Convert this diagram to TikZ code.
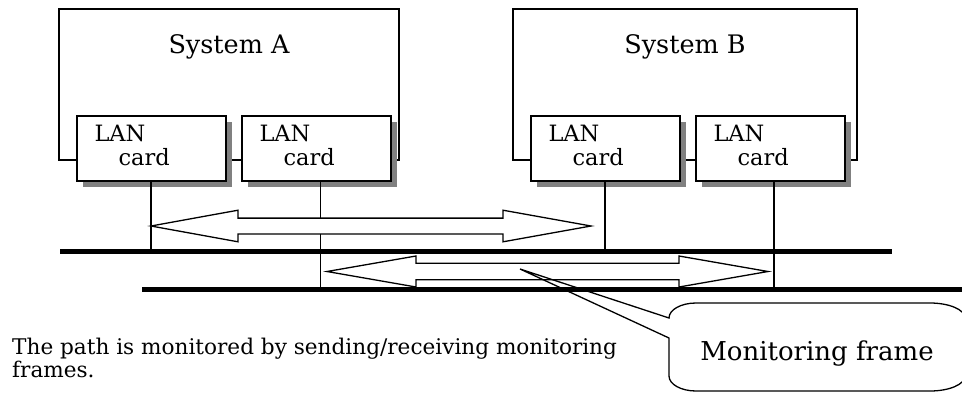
\documentclass[tikz,border=0pt]{standalone}
\usepackage{fontspec}
\setmainfont{DejaVu Serif}
\usetikzlibrary{shadows}

\tikzset{
  thinline/.style={line width=1.3pt, line join=miter},
  sysbox/.style={draw, thinline, inner sep=0pt},
  lancard/.style={draw, thinline, fill=white, inner sep=0pt,
    minimum width=149pt, minimum height=65pt,
    general shadow={fill=black!50, shadow xshift=5.5pt, shadow yshift=-5.5pt}},
  systext/.style={font=\fontsize{25.5}{30}\selectfont, anchor=base, inner sep=0pt},
  calltext/.style={font=\fontsize{26}{30}\selectfont, anchor=base, inner sep=0pt},
  cardtext/.style={font=\fontsize{22.5}{24}\selectfont, anchor=base west, inner sep=0pt},
  bus/.style={line width=5pt},
  blockarrow/.style={draw, thinline, fill=white},
  notetext/.style={font=\fontsize{21.6}{20}\selectfont, anchor=base west,
    align=left, inner sep=0pt},
  calloutline/.style={draw, thinline},
}

\begin{document}
\begin{tikzpicture}[x=1pt, y=-1pt]
\path[use as bounding box] (0,0) rectangle (962,392);
\clip (0,0) rectangle (962,392);

% the two systems
\node[sysbox, minimum width=340pt, minimum height=151pt] (sysA) at (229,84.5) {};
\node[sysbox, minimum width=344pt, minimum height=151pt] (sysB) at (685,84.5) {};
\node[systext] (tA) at ([yshift=-45pt]sysA.north) {System A};
\node[systext] (tB) at ([yshift=-45pt]sysB.north) {System B};

% LAN cards sitting on the lower edge of each system
\node[lancard] (a1) at (151.5,148.5) {};
\node[lancard] (a2) at (316.5,148.5) {};
\node[lancard] (b1) at (605.5,148.5) {};
\node[lancard] (b2) at (770.5,148.5) {};
\foreach \c in {a1,a2,b1,b2}{
  \node[cardtext] (\c-l1) at ([shift={(18,26)}]\c.north west) {LAN};
  \node[cardtext] (\c-l2) at ([shift={(42,50)}]\c.north west) {card};
}

% the two LAN segments
\coordinate (busU-w) at (60,251.5);
\coordinate (busU-e) at (892,251.5);
\coordinate (busL-w) at (142,289.7);
\coordinate (busL-e) at (970,289.7);

% drops from the cards to the segments
\draw[thinline] ([xshift=-0.5pt]a1.south) -- ([xshift=-0.5pt]a1.south |- busU-w);
\draw[thinline] ([xshift=4pt]a2.south) -- ([xshift=4pt]a2.south |- busL-w);
\draw[thinline] ([xshift=-0.5pt]b1.south) -- ([xshift=-0.5pt]b1.south |- busU-w);
\draw[thinline] ([xshift=3.5pt]b2.south) -- ([xshift=3.5pt]b2.south |- busL-w);

\draw[bus] (busU-w) -- (busU-e);
\draw[bus] (busL-w) -- (busL-e);

% monitoring frames travelling both ways
\path[blockarrow] (151,226) -- (238,210.2) -- (238,218.1) -- (503,218.1) -- (503,210.2)
  -- (591,226) -- (503,241.8) -- (503,233.9) -- (238,233.9) -- (238,241.8) -- cycle;
\path[blockarrow] (327,271.5) -- (416,256) -- (416,263.3) -- (679,263.3) -- (679,256)
  -- (768,271.5) -- (679,287) -- (679,279.7) -- (416,279.7) -- (416,287) -- cycle;

% callout
\path[calloutline] (520,269) -- (669,338) -- (669,376)
  .. controls (669,384.3) and (681.1,391) .. (696,391) -- (930,391)
  .. controls (949.3,391) and (965,384.3) .. (965,376) -- (965,318)
  .. controls (965,309.7) and (949.3,303) .. (930,303) -- (696,303)
  .. controls (681.1,303) and (669,309.7) .. (669,318) -- cycle;
\node[calltext] (mf) at (817,360) {Monitoring frame};

\node[notetext] (note) at (12,377)
  {The path is monitored by sending/receiving monitoring\\frames.};
\end{tikzpicture}
\end{document}
